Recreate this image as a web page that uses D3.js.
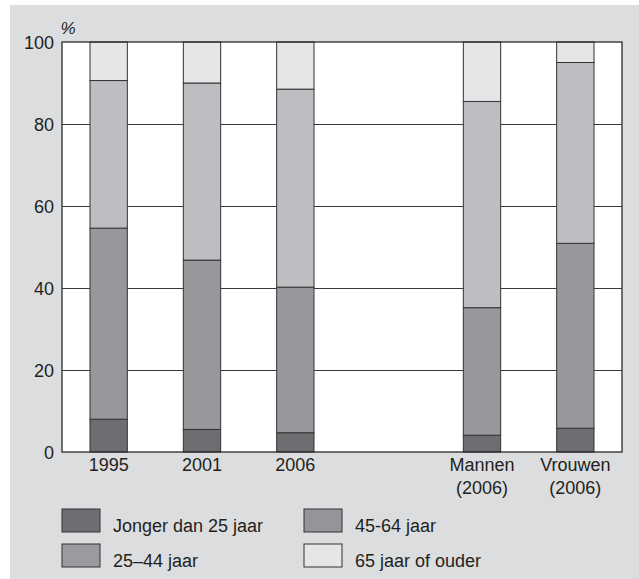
<!DOCTYPE html>
<html><head><meta charset="utf-8">
<script src="https://cdn.jsdelivr.net/npm/d3@7"></script>
<style>
html,body{margin:0;padding:0;background:#fff;}
text{font-family:"Liberation Sans",Arial,Helvetica,sans-serif;fill:#231f20;}
</style></head>
<body>
<svg id="chart" width="639" height="579"></svg>
<script>
// Data
const categories = ["1995", "2001", "2006", "gap", "Mannen (2006)", "Vrouwen (2006)"];
const seriesNames = ["Jonger dan 25 jaar", "25–44 jaar", "45-64 jaar", "65 jaar of ouder"];
const jonger25 = [8.0, 5.5, 4.7, null, 4.1, 5.8];
const jaar25_44 = [46.6, 41.3, 35.5, null, 31.1, 45.1];
const jaar45_64 = [36.0, 43.2, 48.3, null, 50.3, 44.1];
const jaar65plus = [9.4, 10.0, 11.5, null, 14.5, 5.0];
const yTicks = [0, 20, 40, 60, 80, 100];
const legendOrder = ["Jonger dan 25 jaar", "45-64 jaar", "25–44 jaar", "65 jaar of ouder"];

const barColors = ["#6d6e71", "#97989b", "#bdbec1", "#e5e6e8"];
const legendColors = {"Jonger dan 25 jaar": "#6d6e71", "25–44 jaar": "#9a9b9e", "45-64 jaar": "#949598", "65 jaar of ouder": "#e5e6e8"};

const FONT = '"Liberation Sans",Arial,Helvetica,sans-serif';
const FS = "18px";

const svg = d3.select("#chart");
svg.append("rect").attr("x", 10).attr("y", 5).attr("width", 629).attr("height", 574).attr("fill", "#dcdddf");

const m = {left: 62, top: 42, right: 622, bottom: 452};
const x = d3.scaleBand().domain(categories).range([m.left, m.right]).paddingInner(0.6).paddingOuter(0.3);
const y = d3.scaleLinear().domain([0, 100]).range([m.bottom, m.top]);

// plot background
svg.append("rect").attr("x", m.left).attr("y", m.top).attr("width", m.right - m.left).attr("height", m.bottom - m.top).attr("fill", "#fff");

// gridlines
const grid = svg.append("g").attr("transform", `translate(${m.left},0)`)
  .call(d3.axisLeft(y).tickValues(yTicks.filter(t => t > 0 && t < 100)).tickSize(-(m.right - m.left)).tickFormat(""));
grid.select(".domain").remove();
grid.selectAll(".tick line").attr("stroke", "#3a3a3a").attr("stroke-width", 1.2);

// stacked bars
const rows = categories.map((c, i) => ({cat: c, v: [jonger25[i], jaar25_44[i], jaar45_64[i], jaar65plus[i]]})).filter(d => d.v[0] !== null);
const stackData = rows.map(d => { const o = {cat: d.cat}; seriesNames.forEach((s, k) => o[s] = d.v[k]); return o; });
const stacked = d3.stack().keys(seriesNames)(stackData);
stacked.forEach((layer, k) => {
  svg.append("g").selectAll("rect").data(layer).join("rect")
    .attr("x", d => x(d.data.cat))
    .attr("width", x.bandwidth())
    .attr("y", d => y(Math.min(d[1], 100)))
    .attr("height", d => y(d[0]) - y(Math.min(d[1], 100)))
    .attr("fill", barColors[k])
    .attr("stroke", "#333")
    .attr("stroke-width", 1);
});

// plot frame
svg.append("rect").attr("x", m.left).attr("y", m.top).attr("width", m.right - m.left).attr("height", m.bottom - m.top)
  .attr("fill", "none").attr("stroke", "#2a2a2a").attr("stroke-width", 1.3);

// y axis labels
const ya = svg.append("g").attr("transform", `translate(${m.left},0)`)
  .call(d3.axisLeft(y).tickValues(yTicks).tickSize(0).tickPadding(8));
ya.select(".domain").remove();
ya.selectAll("text").style("font-size", FS).style("font-family", FONT).attr("fill", "#231f20").attr("dy", "0.36em");

svg.append("text").attr("x", 60.5).attr("y", 34).style("font-size", "17px").style("font-style", "italic").style("font-family", FONT).text("%");

// x axis labels
const xa = svg.append("g").attr("transform", `translate(0,${m.bottom})`)
  .call(d3.axisBottom(x).tickValues(categories.filter(c => c !== "gap")).tickSize(0).tickFormat(""));
xa.select(".domain").remove();
xa.selectAll(".tick").each(function(d) {
  const parts = d.split(" ");
  const t = d3.select(this).append("text").attr("text-anchor", "middle").attr("fill", "#231f20")
    .style("font-size", FS).style("font-family", FONT);
  parts.forEach((p, i) => t.append("tspan").attr("x", 0).attr("y", 18.5 + i * 23).text(p));
});

// legend
const legPos = [[62, 509], [304, 509], [62, 544], [304, 544]];
legendOrder.forEach((name, i) => {
  const [lx, ly] = legPos[i];
  svg.append("rect").attr("x", lx).attr("y", ly).attr("width", 38).attr("height", 23)
    .attr("fill", legendColors[name]).attr("stroke", "#333").attr("stroke-width", 1);
  svg.append("text").attr("x", lx + 51).attr("y", ly + 22.5).style("font-size", FS).style("font-family", FONT).text(name);
});
</script>
</body></html>
